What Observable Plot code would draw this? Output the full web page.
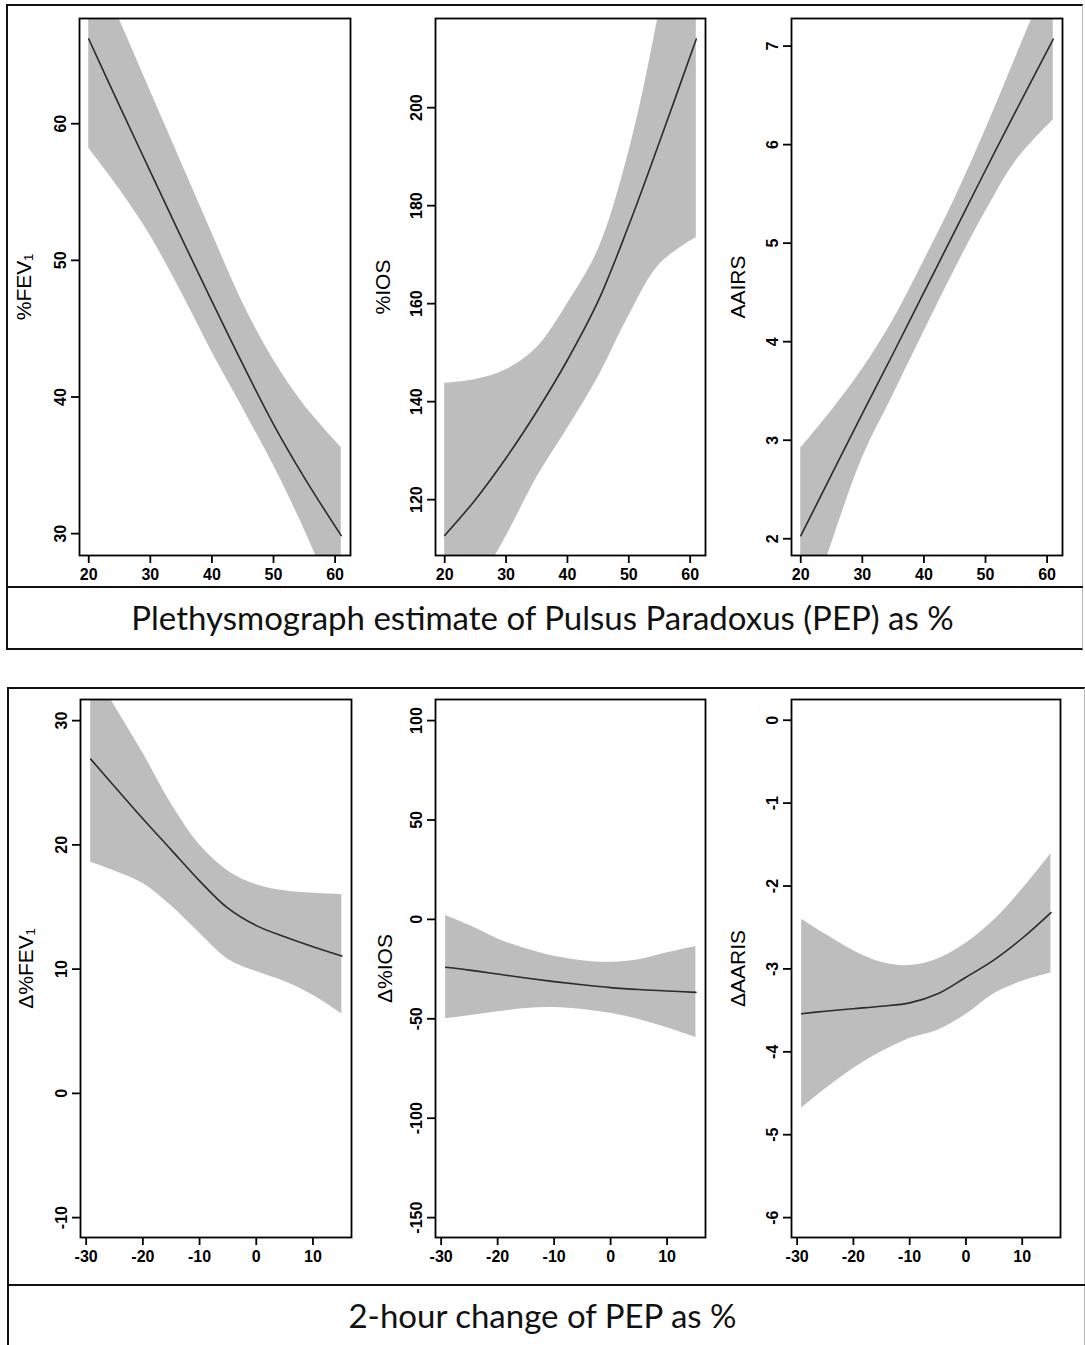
<!DOCTYPE html>
<html>
<head>
<meta charset="utf-8">
<script src="https://cdn.jsdelivr.net/npm/d3@7"></script>
<script src="https://cdn.jsdelivr.net/npm/@observablehq/plot@0.6"></script>
<style>
  html, body { margin: 0; padding: 0; background: #fff; }
  #root { position: relative; width: 1085px; height: 1345px; overflow: hidden; background: #fff; }
  .cell { position: absolute; }
  .box { position: absolute; box-sizing: border-box; pointer-events: none; }
  .title { position: absolute; left: 0; width: 1085px; text-align: center;
           font-family: Lato, "Open Sans", sans-serif; color: #111; }
</style>
</head>
<body>
<div id="root"></div>
<script>
// ---- top panel: x = Plethysmograph estimate of Pulsus Paradoxus (PEP) as %
const pepX = [20, 25, 30, 35, 40, 45, 50, 55, 61];
const fevLine  = [66.2, 61.3, 56.5, 51.7, 47.0, 42.4, 38.0, 34.1, 29.85];
const fevUpper = [72.8, 67.6, 62.4, 57.2, 52.0, 46.9, 42.7, 39.4, 36.3];
const fevLower = [58.2, 55.2, 51.8, 47.7, 43.3, 39.2, 35.0, 30.3, 24.0];

const iosLine  = [112.7, 120.0, 128.5, 138.0, 148.5, 160.5, 176.0, 193.0, 214.0];
const iosUpper = [143.7, 144.5, 146.5, 151.0, 160.0, 171.0, 191.0, 220.0, 265.0];
const iosLower = [95.0, 102.0, 112.5, 124.5, 134.5, 145.0, 157.5, 168.0, 173.5];

const aairsLine  = [2.03, 2.65, 3.27, 3.88, 4.50, 5.12, 5.74, 6.35, 7.07];
const aairsUpper = [2.92, 3.30, 3.72, 4.22, 4.82, 5.45, 6.15, 6.90, 7.80];
const aairsLower = [1.00, 1.95, 2.82, 3.46, 4.10, 4.73, 5.32, 5.84, 6.25];

// ---- bottom panel: x = 2-hour change of PEP as %
const changeX = [-29.2, -25, -20, -15, -10, -5, 0, 5, 10, 15.1];
const dFevLine  = [26.9, 24.7, 22.1, 19.6, 17.1, 14.9, 13.5, 12.6, 11.8, 11.05];
const dFevUpper = [34.5, 31.2, 27.4, 23.3, 20.0, 17.9, 16.8, 16.3, 16.1, 16.0];
const dFevLower = [18.6, 17.9, 16.9, 15.1, 12.9, 10.8, 9.8, 9.0, 7.9, 6.4];

const dIosLine  = [-24.1, -25.5, -27.5, -29.5, -31.3, -32.9, -34.3, -35.3, -36.0, -36.7];
const dIosUpper = [2.0, -3.0, -9.8, -14.8, -18.6, -20.8, -21.6, -20.3, -16.8, -13.6];
const dIosLower = [-50.0, -48.5, -46.5, -44.8, -44.3, -45.3, -47.2, -50.3, -54.5, -59.4];

const dAarisLine  = [-3.54, -3.51, -3.48, -3.45, -3.41, -3.30, -3.10, -2.89, -2.63, -2.32];
const dAarisUpper = [-2.40, -2.58, -2.78, -2.92, -2.96, -2.88, -2.69, -2.41, -2.04, -1.61];
const dAarisLower = [-4.68, -4.45, -4.20, -4.00, -3.84, -3.74, -3.55, -3.30, -3.15, -3.05];

// ---- ticks and labels
const pepTicks = [20, 30, 40, 50, 60];
const changeTicks = [-30, -20, -10, 0, 10];
const fevTicks = [30, 40, 50, 60];
const iosTicks = [120, 140, 160, 180, 200];
const aairsTicks = [2, 3, 4, 5, 6, 7];
const dFevTicks = [-10, 0, 10, 20, 30];
const dIosTicks = [-150, -100, -50, 0, 50, 100];
const dAarisTicks = [-6, -5, -4, -3, -2, -1, 0];
const topTitle = "Plethysmograph estimate of Pulsus Paradoxus (PEP) as %";
const bottomTitle = "2-hour change of PEP as %";

const root = document.getElementById("root");

function panel(cfg) {
  const rows = cfg.x.map((xv, i) => ({x: xv, y: cfg.line[i], lo: cfg.lower[i], hi: cfg.upper[i]}));
  const fmt = d => String(d);
  const chart = Plot.plot({
    width: cfg.w, height: cfg.h,
    marginLeft: cfg.ml, marginRight: cfg.mr, marginTop: cfg.mt, marginBottom: cfg.mb,
    style: {background: "transparent", fontFamily: "'Liberation Sans', Arial, sans-serif", fontSize: "16px", color: "#000", overflow: "visible"},
    x: {domain: cfg.xDomain, label: null},
    y: {domain: cfg.yDomain, label: null},
    marks: [
      Plot.areaY(rows, {x: "x", y1: "lo", y2: "hi", fill: "#bdbdbd", curve: "catmull-rom", clip: true}),
      Plot.line(rows, {x: "x", y: "y", stroke: "#2b2b2b", strokeWidth: 1.6, curve: "catmull-rom", clip: true}),
      Plot.frame({stroke: "#000", strokeWidth: 1.8}),
      Plot.axisX({ticks: cfg.xTicks, tickSize: 8, tickPadding: 5, tickFormat: fmt, strokeWidth: 1.8, fontSize: 16, fontWeight: "bold", label: null}),
      Plot.axisY({ticks: cfg.yTicks, tickSize: 8, tickPadding: 6, tickRotate: -90, tickFormat: fmt, strokeWidth: 1.8, fontSize: 16, fontWeight: "bold", label: null}),
      Plot.text([cfg.label], {text: d => d, frameAnchor: "left", textAnchor: "middle", rotate: -90, dx: cfg.ldx, dy: 0, fontSize: 21, fill: "#000"})
    ]
  });
  const div = document.createElement("div");
  div.className = "cell";
  div.style.left = cfg.left + "px";
  div.style.top = cfg.top + "px";
  div.appendChild(chart);
  root.appendChild(div);
}

const topCommon = {x: pepX, xDomain: [18.5, 62.5], xTicks: pepTicks, top: 0, w: 360, h: 600, mt: 18, mb: 45};
panel({...topCommon, line: fevLine, upper: fevUpper, lower: fevLower, yDomain: [28.4, 67.7], yTicks: fevTicks,
       label: "%FEV\u2081", left: 0, ml: 79, mr: 10, ldx: -55});
panel({...topCommon, line: iosLine, upper: iosUpper, lower: iosLower, yDomain: [108.6, 218.2], yTicks: iosTicks,
       label: "%IOS", left: 360, ml: 75, mr: 15, ldx: -52});
panel({...topCommon, line: aairsLine, upper: aairsUpper, lower: aairsLower, yDomain: [1.83, 7.28], yTicks: aairsTicks,
       label: "AAIRS", left: 720, ml: 71, mr: 18, ldx: -53});

const botCommon = {x: changeX, xDomain: [-31.0, 16.8], xTicks: changeTicks, top: 660, w: 360, h: 640, mt: 39, mb: 63};
panel({...botCommon, line: dFevLine, upper: dFevUpper, lower: dFevLower, yDomain: [-11.6, 31.7], yTicks: dFevTicks,
       label: "\u0394%FEV\u2081", left: 0, ml: 80, mr: 9, ldx: -54});
panel({...botCommon, line: dIosLine, upper: dIosUpper, lower: dIosLower, yDomain: [-160, 110.6], yTicks: dIosTicks,
       label: "\u0394%IOS", left: 360, ml: 75, mr: 15, ldx: -50});
panel({...botCommon, line: dAarisLine, upper: dAarisUpper, lower: dAarisLower, yDomain: [-6.24, 0.25], yTicks: dAarisTicks,
       label: "\u0394AARIS", left: 720, ml: 71, mr: 20, ldx: -53});

// outer boxes
function box(l, t, w, h, css) {
  const d = document.createElement("div");
  d.className = "box";
  d.style.left = l + "px"; d.style.top = t + "px";
  d.style.width = w + "px"; d.style.height = h + "px";
  Object.assign(d.style, css);
  root.appendChild(d);
}
box(6, 4, 1077, 646, {borderTop: "2px solid #111", borderLeft: "2px solid #111", borderBottom: "2px solid #111", borderRight: "1px solid #bbb"});
box(6, 586, 1077, 2, {borderTop: "2px solid #111"});
box(7, 687, 1078, 700, {borderTop: "2px solid #111", borderLeft: "2px solid #111", borderRight: "1px solid #bbb"});
box(7, 1284, 1078, 2, {borderTop: "2px solid #111"});

function title(text, cy, size) {
  const d = document.createElement("div");
  d.className = "title";
  d.textContent = text;
  d.style.fontSize = size + "px";
  d.style.lineHeight = "44px";
  d.style.top = (cy - 22) + "px";
  root.appendChild(d);
}
title(topTitle, 617, 33);
title(bottomTitle, 1315, 33);
</script>
</body>
</html>
